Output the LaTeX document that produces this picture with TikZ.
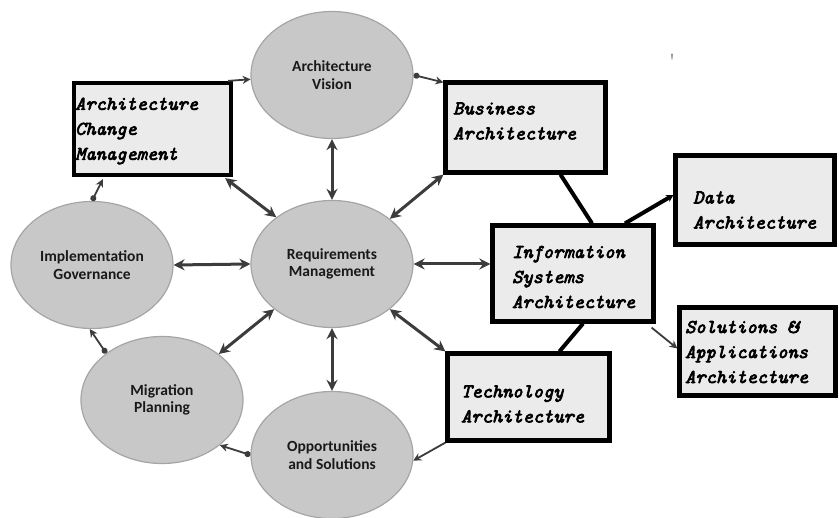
\documentclass[tikz,border=0pt]{standalone}
\usepackage{fontspec}
\usetikzlibrary{arrows.meta,calc,shapes.geometric}
\newfontfamily\ellfont{Carlito}
\newfontfamily\boxfont{lmmono10-italic.otf}[FakeBold=3.5]
\definecolor{ellfill}{RGB}{200,200,200}
\definecolor{elldraw}{RGB}{165,165,165}
\definecolor{boxfill}{RGB}{235,235,235}
\definecolor{arrcol}{RGB}{60,60,60}
\definecolor{txtcol}{RGB}{25,25,25}
\tikzset{
  phase/.style={ellipse, draw=elldraw, line width=1.2pt, fill=ellfill,
    minimum width=162pt, minimum height=127pt, inner sep=0pt,
    align=center, text=txtcol, font=\ellfont\bfseries\fontsize{15.5}{17.5}\selectfont},
  archbox/.style={rectangle, draw=black, line width=4.2pt, fill=boxfill, inner sep=0pt},
  boxtext/.style={anchor=west, align=left, inner sep=0pt, text=black,
    font=\boxfont\fontsize{19.5}{25}\selectfont},
  dbl/.style={draw=arrcol, line width=3pt, {Stealth[length=11pt,width=11pt]}-{Stealth[length=11pt,width=11pt]}},
  thin/.style={draw=arrcol, line width=1.8pt, -{Stealth[length=8pt,width=8pt]}},
  dotthin/.style={draw=arrcol, line width=1.8pt, {Circle[length=6pt]}-{Stealth[length=8pt,width=8pt]}},
  thick/.style={draw=black, line width=4pt},
}
\begin{document}
\begin{tikzpicture}[x=1pt,y=-1pt]
\useasboundingbox (0,0) rectangle (839,518);
% ellipses
\node[phase] (av)  at (332,75)  {Architecture\\Vision};
\node[phase] (rm)  at (332,264) {Requirements\\Management};
\node[phase] (igv) at (92,265)  {Implementation\\Governance};
\node[phase] (mig) at (162,400) {Migration\\Planning};
\node[phase] (opp) at (332,455) {Opportunities\\and Solutions};
% boxes
\node[archbox, minimum width=157pt, minimum height=92pt] (acm) at (152.5,129) {};
\node[archbox, minimum width=160pt, minimum height=90pt] (bus) at (525.5,127.5) {};
\node[archbox, minimum width=159pt, minimum height=89pt] (dat) at (755,200) {};
\node[archbox, minimum width=161pt, minimum height=96pt] (isa) at (573,273.5) {};
\node[archbox, minimum width=162pt, minimum height=87pt] (tec) at (528.5,397) {};
\node[archbox, minimum width=156pt, minimum height=88pt] (sol) at (757.5,351.5) {};
% box texts
\node[boxtext] (acmt) at (75,131) {Architecture\\Change\\Management};
\node[boxtext] (bust) at (453,121) {Business\\Architecture};
\node[boxtext] (datt) at (693,210) {Data\\Architecture};
\node[boxtext] (isat) at (512,277) {Information\\Systems\\Architecture};
\node[boxtext] (tect) at (461,404) {Technology\\Architecture};
\node[boxtext] (solt) at (685,352) {Solutions \&\\Applications\\Architecture};
% stray mark
\node[inner sep=0pt, text=black!80, font=\fontsize{22}{22}\selectfont] (tick) at (672,62) {\textquotesingle};
% double arrows with requirements management
\draw[dbl] (av.south) -- (rm.north);
\draw[dbl] (rm.south) -- (opp.north);
\draw[dbl] (igv.east) -- (rm.west);
\draw[dbl] (rm.east) -- (isa.west |- rm.east);
\draw[dbl] ($(acm.south east)+(-8,1)$) -- (rm.140);
\draw[dbl] (rm.38) -- (bus.south west);
\draw[dbl] (rm.218) -- (mig.39);
\draw[dbl] (rm.322) -- (tec.north west);
% cycle arrows
\draw[thin] ($(acm.north east)+(-5,0)$) -- (av.183);
\draw[dotthin] (av.east) -- ($(bus.north west)+(0,2)$);
\draw[dotthin] (igv.north) -- ($(acm.south west)+(31,2)$);
\draw[dotthin] (mig.140) -- (igv.268);
\draw[dotthin] (opp.west) -- (mig.322);
\draw[thin] (tec.south west) -- (opp.-4);
% architecture box links
\draw[thick] ($(bus.south)+(35,0)$) -- ($(isa.north)+(19,0)$);
\draw[thick] ($(isa.south)+(10,0)$) -- ($(tec.north)+(31,0)$);
\draw[thick, -{Stealth[length=7pt,width=8pt]}] ($(isa.north)+(52,0)$) -- ($(dat.west)+(0,-5)$);
\draw[thin] ($(isa.south east)+(-4,4)$) -- ($(sol.west)+(0,-3)$);
\end{tikzpicture}
\end{document}
